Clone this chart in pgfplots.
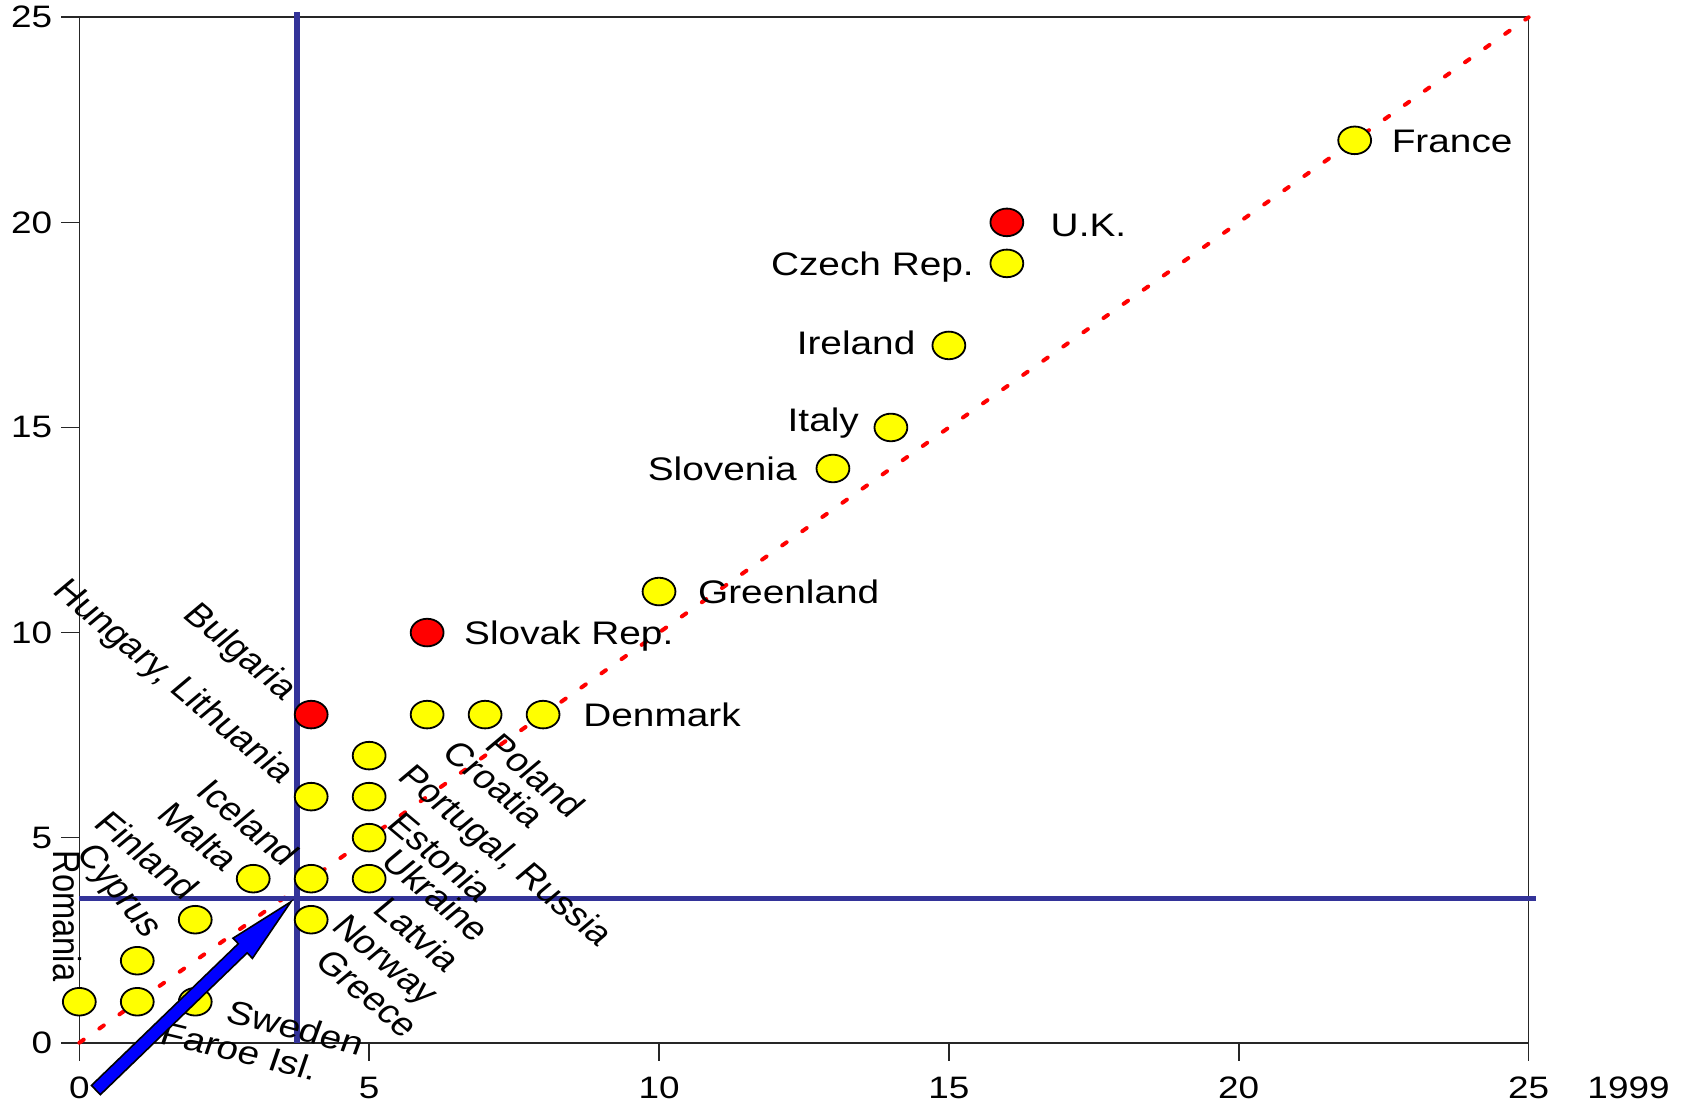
\documentclass[border=0pt]{standalone}
\usepackage{pgfplots}
\pgfplotsset{compat=1.18}
\usepackage{fontspec}
\setmainfont{Liberation Sans}
\definecolor{lineblue}{RGB}{51,51,153}
\definecolor{ptyellow}{RGB}{255,255,0}
\definecolor{ptred}{RGB}{255,0,0}
\definecolor{arrowblue}{RGB}{0,0,255}
\begin{document}
\begin{tikzpicture}[
  lab/.style={font=\fontsize{16.3}{19}\selectfont, inner sep=0pt, text height=11.7pt, text depth=0pt},
]
\useasboundingbox (-39.65pt,-31.65pt) rectangle (802.3pt,521.35pt);
\begin{axis}[
  scale only axis, width=724.6pt, height=512.7pt,
  xmin=0, xmax=25, ymin=0, ymax=25,
  xtick={0,5,10,15,20,25}, ytick={0,5,10,15,20,25},
  tick align=outside, major tick length=9pt,
  xtick pos=bottom, ytick pos=left,
  axis line style={line width=0.8pt, black!85},
  every tick/.style={line width=0.8pt, black!85},
  /pgf/number format/assume math mode=true,
  tick label style={font=\fontsize{15.5}{18}\selectfont, inner sep=0pt},
  xticklabel style={anchor=north, yshift=-8pt, xscale=1.19},
  yticklabel style={anchor=east, xshift=-4.3pt, xscale=1.19},
  clip=false,
]
% diagonal
\addplot[ptred, line width=2pt, dash pattern=on 2.7pt off 9.6pt, line cap=round] coordinates {(0,0) (25,25)};
% yellow points
\addplot[only marks, mark=*, mark size=6.9pt, mark options={fill=ptyellow, draw=black, line width=0.9pt, xscale=1.19}] coordinates {
(22,22) (16,19) (15,17) (14,15) (13,14) (10,11)
(8,8) (7,8) (6,8) (5,7) (5,6) (5,5) (5,4)
(4,6) (4,4) (4,3) (3,4) (2,3) (1,2) (0,1) (1,1) (2,1)};
% red points
\addplot[only marks, mark=*, mark size=6.9pt, mark options={fill=ptred, draw=black, line width=0.9pt, xscale=1.19}] coordinates {
(16,20) (6,10) (4,8)};
% blue reference lines
\addplot[lineblue, line width=2.8pt] coordinates {(3.75,0) (3.75,25.13)};
\addplot[lineblue, line width=2.8pt] coordinates {(0,3.52) (25.12,3.52)};

% horizontal labels
\node[lab, anchor=west, xshift=18.3pt, xscale=1.19] at (axis cs:22,22) {France};
\node[lab, anchor=west, xshift=21.7pt, yshift=-1pt, xscale=1.19] at (axis cs:16,20) {U.K.};
\node[lab, anchor=east, xshift=-16.3pt, xscale=1.19] at (axis cs:16,19) {Czech Rep.};
\node[lab, anchor=east, xshift=-16.5pt, yshift=1.5pt, xscale=1.19] at (axis cs:15,17) {Ireland};
\node[lab, anchor=east, xshift=-15.8pt, yshift=3.8pt, xscale=1.19] at (axis cs:14,15) {Italy};
\node[lab, anchor=east, xshift=-17.9pt, xscale=1.19] at (axis cs:13,14) {Slovenia};
\node[lab, anchor=west, xshift=19.3pt, xscale=1.19] at (axis cs:10,11) {Greenland};
\node[lab, anchor=west, xshift=18.3pt, xscale=1.19] at (axis cs:6,10) {Slovak Rep.};
\node[lab, anchor=west, xshift=19.9pt, xscale=1.19] at (axis cs:8,8) {Denmark};

% rotated labels, down-right
\node[lab, anchor=west, xscale=1.19, rotate=-45] at (axis cs:7.14,7.41) {Poland};
\node[lab, anchor=west, xscale=1.19, rotate=-45] at (axis cs:6.40,7.23) {Croatia};
\node[lab, anchor=west, xscale=1.19, rotate=-45] at (axis cs:5.63,6.66) {Portugal, Russia};
\node[lab, anchor=west, xscale=1.19, rotate=-45] at (axis cs:5.44,5.48) {Estonia};
\node[lab, anchor=west, xscale=1.19, rotate=-45] at (axis cs:5.34,4.58) {Ukraine};
\node[lab, anchor=west, xscale=1.19, rotate=-45] at (axis cs:5.21,3.40) {Latvia};
\node[lab, anchor=west, xscale=1.19, rotate=-45] at (axis cs:4.49,3.00) {Norway};
\node[lab, anchor=west, xscale=1.19, rotate=-45] at (axis cs:4.20,2.14) {Greece};
\node[lab, anchor=west, xscale=1.19, rotate=-17] at (axis cs:2.57,0.80) {Sweden};
\node[lab, anchor=west, xscale=1.19, rotate=-16] at (axis cs:1.43,0.26) {Faroe Isl.};

% rotated labels, up-left
\node[lab, anchor=east, xscale=1.19, rotate=-45] at (axis cs:3.68,8.53) {Bulgaria};
\node[lab, anchor=east, xscale=1.19, rotate=-45] at (axis cs:3.63,6.49) {Hungary, Lithuania};
\node[lab, anchor=east, xscale=1.19, rotate=-45] at (axis cs:3.69,4.46) {Iceland};
\node[lab, anchor=east, xscale=1.19, rotate=-45] at (axis cs:2.65,4.34) {Malta};
\node[lab, anchor=east, xscale=1.19, rotate=-45] at (axis cs:1.96,3.65) {Finland};
\node[lab, anchor=east, xscale=1.19, rotate=-56] at (axis cs:1.33,2.67) {Cyprus};
\node[lab, anchor=east, xscale=1.19, rotate=-90] at (axis cs:-0.20,1.49) {Romania};

% axis label
\node[anchor=north west, inner sep=0pt, font=\fontsize{15.5}{18}\selectfont, xshift=29.2pt, yshift=-17pt, xscale=1.19] at (axis cs:25,0) {1999};

\coordinate (O) at (axis cs:0,0);
\end{axis}
% arrow
\draw[shift={(O)}, fill=arrowblue, draw=black, line width=0.8pt, line join=miter]
  (6.08pt,-21.35pt) -- (79.48pt,49.53pt) -- (76.84pt,52.27pt) -- (105.8pt,70.5pt)
  -- (86.56pt,42.19pt) -- (83.92pt,44.93pt) -- (10.52pt,-25.95pt) -- cycle;
\end{tikzpicture}
\end{document}
